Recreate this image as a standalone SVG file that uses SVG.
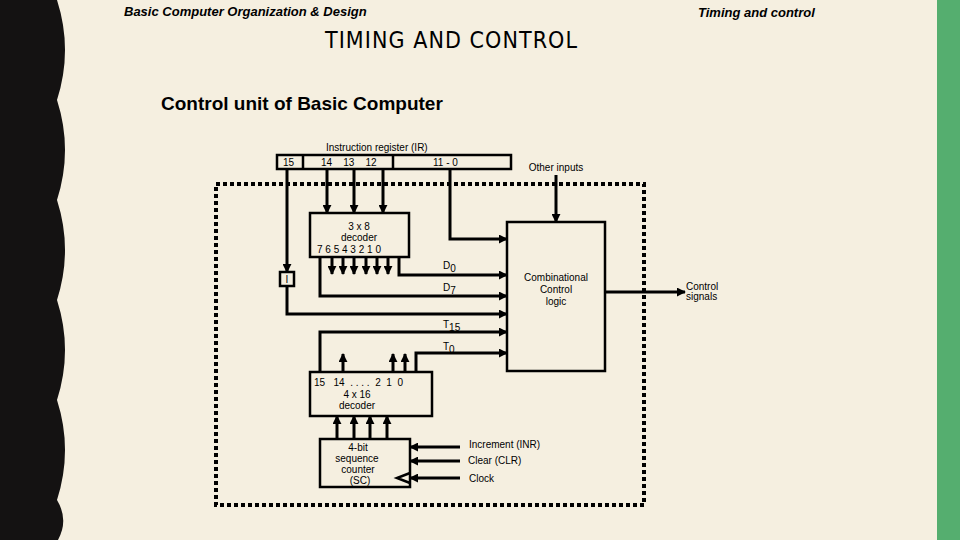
<svg xmlns="http://www.w3.org/2000/svg" width="960" height="540" viewBox="0 0 960 540">
<defs>
<style>
.b{fill:none;stroke:#000;stroke-width:2.5}
.t{font-family:"Liberation Sans",Arial,sans-serif;font-size:10px;fill:#000}
.a{fill:none;stroke:#000;stroke-width:3;marker-end:url(#ar)}
</style>
<marker id="ar" viewBox="0 0 10 10" refX="9" refY="5" markerWidth="3" markerHeight="3" orient="auto" markerUnits="strokeWidth"><path d="M0,0 L10,5 L0,10 z" fill="#000"/></marker>
</defs>
<rect width="960" height="540" fill="#f5efe0"/>
<rect x="937" y="0" width="23" height="540" fill="#55ae6f"/>
<path d="M0,0 H58 C72,20 72,70 58,100 C54,110 54,110 58,100 Z" fill="none"/>
<path d="M0,0 H57 Q73,50 57,100 Q73,150 57,200 Q73,250 57,300 Q73,350 57,400 Q73,450 57,500 Q69,520 58,540 H0 Z" fill="#141212"/>
<text x="124" y="16" font-family="Liberation Sans,Arial,sans-serif" font-size="13" font-style="italic" font-weight="bold">Basic Computer Organization &amp; Design</text>
<text x="698" y="17" font-family="Liberation Sans,Arial,sans-serif" font-size="13" font-style="italic" font-weight="bold">Timing and control</text>
<text x="325" y="48" font-family="DejaVu Sans Condensed,Liberation Sans,sans-serif" font-size="23" letter-spacing="3" textLength="255">TIMING AND CONTROL</text>
<text x="161" y="110" font-family="Liberation Sans,Arial,sans-serif" font-size="19" font-weight="bold">Control unit of Basic Computer</text>
<rect x="216" y="184" width="428" height="321" fill="none" stroke="#000" stroke-width="4" stroke-dasharray="4,3"/>
<g id="ir">
<rect x="277" y="155" width="234" height="14" class="b"/>
<line x1="303" y1="155" x2="303" y2="169" class="b"/><line x1="393" y1="155" x2="393" y2="169" class="b"/>
<text x="326" y="151" class="t">Instruction register (IR)</text>
<text x="283" y="166" class="t">15</text>
<text x="321" y="166" class="t" xml:space="preserve">14    13    12</text>
<text x="433" y="166" class="t">11 - 0</text>
</g>
<g id="dec38"><rect x="310" y="213" width="99" height="44" class="b"/>
<text x="359" y="230" class="t" text-anchor="middle">3 x 8</text>
<text x="359" y="241" class="t" text-anchor="middle">decoder</text>
<text x="317" y="253" class="t">7 6 5 4 3  2 1 0</text></g>
<g id="ibox"><rect x="280" y="272" width="14" height="14" class="b"/><text x="287" y="283" class="t" text-anchor="middle">I</text></g>
<g id="ccl"><rect x="507" y="222" width="98" height="149" class="b"/>
<text x="556" y="281" class="t" text-anchor="middle">Combinational</text>
<text x="556" y="293" class="t" text-anchor="middle">Control</text>
<text x="556" y="305" class="t" text-anchor="middle">logic</text></g>
<g id="dec416"><rect x="310" y="372" width="122" height="44" class="b"/>
<text x="314" y="386" class="t" xml:space="preserve">15   14  . . . .  2  1  0</text>
<text x="357" y="398" class="t" text-anchor="middle">4 x 16</text>
<text x="357" y="409" class="t" text-anchor="middle">decoder</text></g>
<g id="sc"><rect x="320" y="439" width="90" height="48" class="b"/>
<text x="358" y="451" class="t" text-anchor="middle">4-bit</text>
<text x="357" y="462" class="t" text-anchor="middle">sequence</text>
<text x="358" y="473" class="t" text-anchor="middle">counter</text>
<text x="360" y="484" class="t" text-anchor="middle">(SC)</text>
<path d="M410,473 L397,478 L410,483" class="b"/></g>
<g id="labels">
<text x="556" y="171" class="t" text-anchor="middle">Other inputs</text>
<text x="443" y="269" class="t">D<tspan dy="3">0</tspan></text>
<text x="443" y="291" class="t">D<tspan dy="3">7</tspan></text>
<text x="443" y="328" class="t">T<tspan dy="3">15</tspan></text>
<text x="443" y="350" class="t">T<tspan dy="3">0</tspan></text>
<text x="686" y="290" class="t">Control</text>
<text x="686" y="300" class="t">signals</text>
<text x="469" y="448" class="t">Increment (INR)</text>
<text x="468" y="464" class="t">Clear (CLR)</text>
<text x="469" y="482" class="t">Clock</text>
</g>
<g id="connectors">
<path d="M327,169 V213" class="a"/><path d="M354,169 V213" class="a"/><path d="M383,169 V213" class="a"/>
<path d="M287,169 V272" class="a"/>
<path d="M287,286 V314 H507" class="a"/>
<path d="M450,169 V239 H507" class="a"/>
<path d="M556,175 V222" class="a"/>
<path d="M332,257 V274" class="a"/><path d="M343,257 V274" class="a"/><path d="M354,257 V274" class="a"/>
<path d="M366,257 V274" class="a"/><path d="M377,257 V274" class="a"/><path d="M388,257 V274" class="a"/>
<path d="M399,257 V275 H507" class="a"/>
<path d="M320,257 V296 H507" class="a"/>
<path d="M320,372 V332 H507" class="a"/>
<path d="M416,372 V353 H507" class="a"/>
<path d="M343,372 V354" class="a"/><path d="M393,372 V354" class="a"/><path d="M405,372 V354" class="a"/>
<path d="M337,439 V416" class="a"/><path d="M354,439 V416" class="a"/><path d="M370,439 V416" class="a"/><path d="M387,439 V416" class="a"/>
<path d="M460,447 H410" class="a"/><path d="M460,461 H410" class="a"/><path d="M460,478 H410" class="a"/>
<path d="M605,292 H685" class="a"/>
</g>
</svg>
